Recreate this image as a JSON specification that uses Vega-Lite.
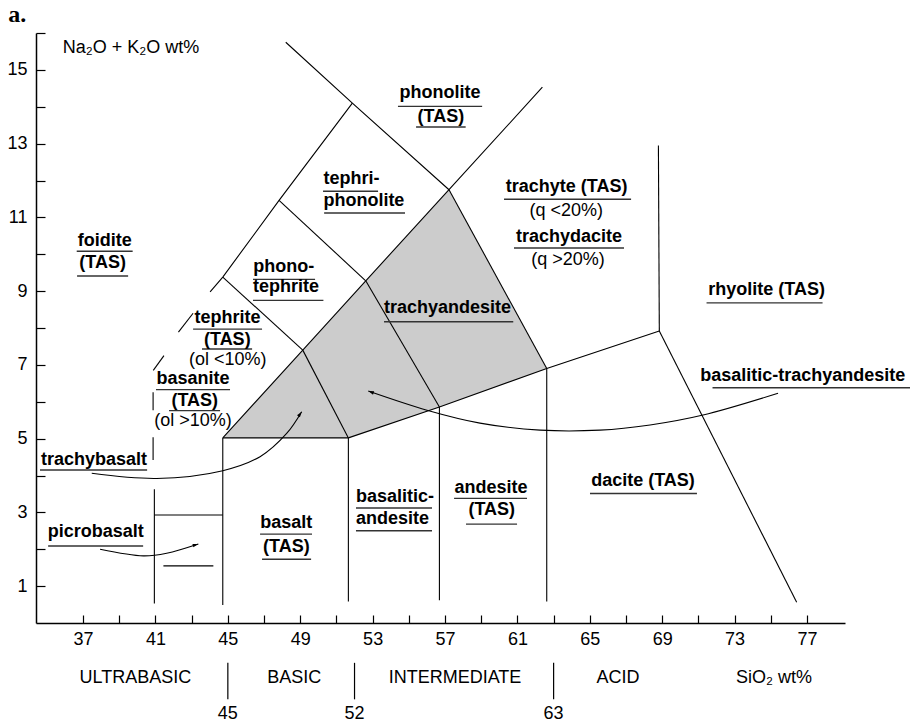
{
  "$schema": "https://vega.github.io/schema/vega-lite/v6.json",
  "width": 809,
  "height": 590,
  "autosize": {"type": "none"},
  "padding": {"left": 36, "top": 33, "right": 65, "bottom": 105},
  "background": "white",
  "config": {"view": {"stroke": null}, "font": "Liberation Sans"},
  "datasets": {
    "poly": [
      {"o": 0, "x": 44.72, "y": 5.02},
      {"o": 1, "x": 49.14, "y": 7.40},
      {"o": 2, "x": 52.62, "y": 9.28},
      {"o": 3, "x": 57.22, "y": 11.75},
      {"o": 4, "x": 62.62, "y": 6.90},
      {"o": 5, "x": 56.69, "y": 5.86},
      {"o": 6, "x": 51.66, "y": 5.02},
      {"o": 7, "x": 44.72, "y": 5.02}
    ],
    "segs": [
      {"s": "L1", "o": 0, "x": 40.88, "y": 6.85}, {"s": "L1", "o": 1, "x": 41.47, "y": 7.25},
      {"s": "L2", "o": 0, "x": 42.27, "y": 7.89}, {"s": "L2", "o": 1, "x": 43.08, "y": 8.40},
      {"s": "L3", "o": 0, "x": 44.02, "y": 8.98}, {"s": "L3", "o": 1, "x": 44.72, "y": 9.38}, {"s": "L3", "o": 2, "x": 47.83, "y": 11.46}, {"s": "L3", "o": 3, "x": 51.88, "y": 14.10},
      {"s": "TOP", "o": 0, "x": 48.2, "y": 15.75}, {"s": "TOP", "o": 1, "x": 51.88, "y": 14.10}, {"s": "TOP", "o": 2, "x": 57.22, "y": 11.75},
      {"s": "PT", "o": 0, "x": 44.72, "y": 9.38}, {"s": "PT", "o": 1, "x": 49.14, "y": 7.40},
      {"s": "TP", "o": 0, "x": 47.83, "y": 11.46}, {"s": "TP", "o": 1, "x": 52.62, "y": 9.28},
      {"s": "DIAG", "o": 0, "x": 44.72, "y": 5.02}, {"s": "DIAG", "o": 1, "x": 49.14, "y": 7.40}, {"s": "DIAG", "o": 2, "x": 52.62, "y": 9.28}, {"s": "DIAG", "o": 3, "x": 57.22, "y": 11.75}, {"s": "DIAG", "o": 4, "x": 62.38, "y": 14.53},
      {"s": "TR", "o": 0, "x": 57.22, "y": 11.75}, {"s": "TR", "o": 1, "x": 62.62, "y": 6.90},
      {"s": "DAC", "o": 0, "x": 51.66, "y": 5.02}, {"s": "DAC", "o": 1, "x": 56.69, "y": 5.86}, {"s": "DAC", "o": 2, "x": 62.62, "y": 6.90}, {"s": "DAC", "o": 3, "x": 68.84, "y": 7.92},
      {"s": "BT", "o": 0, "x": 44.72, "y": 5.02}, {"s": "BT", "o": 1, "x": 51.66, "y": 5.02},
      {"s": "CB", "o": 0, "x": 49.14, "y": 7.40}, {"s": "CB", "o": 1, "x": 51.66, "y": 5.02},
      {"s": "DG", "o": 0, "x": 52.62, "y": 9.28}, {"s": "DG", "o": 1, "x": 56.69, "y": 5.86},
      {"s": "V45", "o": 0, "x": 44.72, "y": 5.02}, {"s": "V45", "o": 1, "x": 44.72, "y": 0.49},
      {"s": "V52", "o": 0, "x": 51.66, "y": 5.02}, {"s": "V52", "o": 1, "x": 51.66, "y": 0.58},
      {"s": "V57", "o": 0, "x": 56.69, "y": 5.86}, {"s": "V57", "o": 1, "x": 56.69, "y": 0.62},
      {"s": "V63", "o": 0, "x": 62.62, "y": 6.90}, {"s": "V63", "o": 1, "x": 62.62, "y": 0.58},
      {"s": "V69", "o": 0, "x": 68.79, "y": 12.95}, {"s": "V69", "o": 1, "x": 68.84, "y": 7.92},
      {"s": "RHY", "o": 0, "x": 68.84, "y": 7.92}, {"s": "RHY", "o": 1, "x": 76.43, "y": 0.56},
      {"s": "V41", "o": 0, "x": 40.94, "y": 3.63}, {"s": "V41", "o": 1, "x": 40.94, "y": 0.53},
      {"s": "H3", "o": 0, "x": 40.94, "y": 2.93}, {"s": "H3", "o": 1, "x": 44.72, "y": 2.93},
      {"s": "HS", "o": 0, "x": 41.44, "y": 1.55}, {"s": "HS", "o": 1, "x": 44.20, "y": 1.55},
      {"s": "VB1", "o": 0, "x": 40.87, "y": 6.26}, {"s": "VB1", "o": 1, "x": 40.87, "y": 5.77},
      {"s": "VB2", "o": 0, "x": 40.87, "y": 5.04}, {"s": "VB2", "o": 1, "x": 40.87, "y": 4.42}
    ],
    "curves": [
      {"s": "C1", "o": 0, "x": 37.48, "y": 4.06}, {"s": "C1", "o": 1, "x": 41.07, "y": 3.92}, {"s": "C1", "o": 2, "x": 44.72, "y": 4.13}, {"s": "C1", "o": 3, "x": 46.78, "y": 4.51}, {"s": "C1", "o": 4, "x": 48.25, "y": 5.14}, {"s": "C1", "o": 5, "x": 49.08, "y": 5.73},
      {"s": "C2", "o": 0, "x": 37.94, "y": 2.0}, {"s": "C2", "o": 1, "x": 40.33, "y": 1.82}, {"s": "C2", "o": 2, "x": 41.62, "y": 1.89}, {"s": "C2", "o": 3, "x": 43.37, "y": 2.14},
      {"s": "C3", "o": 0, "x": 75.40, "y": 6.23}, {"s": "C3", "o": 1, "x": 71.26, "y": 5.64}, {"s": "C3", "o": 2, "x": 68.33, "y": 5.37}, {"s": "C3", "o": 3, "x": 65.56, "y": 5.23}, {"s": "C3", "o": 4, "x": 62.25, "y": 5.23}, {"s": "C3", "o": 5, "x": 58.93, "y": 5.42}, {"s": "C3", "o": 6, "x": 56.00, "y": 5.77}, {"s": "C3", "o": 7, "x": 52.76, "y": 6.29}
    ],
    "heads": [
      {"x": 49.08, "y": 5.73, "a": 35},
      {"x": 43.37, "y": 2.14, "a": 74},
      {"x": 52.76, "y": 6.29, "a": 290}
    ],
    "bc": [
      {"t": "phonolite", "x": 56.72, "y": 14.36},
      {"t": "(TAS)", "x": 56.77, "y": 13.72},
      {"t": "trachyte (TAS)", "x": 63.72, "y": 11.82},
      {"t": "trachydacite", "x": 63.85, "y": 10.47},
      {"t": "rhyolite (TAS)", "x": 74.77, "y": 9.02},
      {"t": "basalitic-trachyandesite", "x": 76.77, "y": 6.70},
      {"t": "dacite (TAS)", "x": 67.94, "y": 3.86},
      {"t": "basalt", "x": 48.23, "y": 2.70},
      {"t": "(TAS)", "x": 48.23, "y": 2.05},
      {"t": "andesite", "x": 59.54, "y": 3.65},
      {"t": "(TAS)", "x": 59.58, "y": 3.06},
      {"t": "tephrite", "x": 44.98, "y": 8.26},
      {"t": "(TAS)", "x": 44.97, "y": 7.67},
      {"t": "basanite", "x": 43.08, "y": 6.62},
      {"t": "(TAS)", "x": 43.17, "y": 6.03},
      {"t": "trachybasalt", "x": 37.61, "y": 4.42},
      {"t": "picrobasalt", "x": 37.70, "y": 2.47},
      {"t": "foidite", "x": 38.20, "y": 10.35},
      {"t": "(TAS)", "x": 38.08, "y": 9.75}
    ],
    "bl": [
      {"t": "tephri-", "x": 50.28, "y": 12.03},
      {"t": "phonolite", "x": 50.28, "y": 11.44},
      {"t": "phono-", "x": 46.41, "y": 9.66},
      {"t": "tephrite", "x": 46.39, "y": 9.10},
      {"t": "trachyandesite", "x": 53.63, "y": 8.53},
      {"t": "basalitic-", "x": 52.08, "y": 3.41},
      {"t": "andesite", "x": 52.08, "y": 2.82}
    ],
    "rc": [
      {"t": "(q <20%)", "x": 63.70, "y": 11.17},
      {"t": "(q >20%)", "x": 63.79, "y": 9.84},
      {"t": "(ol <10%)", "x": 45.0, "y": 7.13},
      {"t": "(ol >10%)", "x": 43.07, "y": 5.47},
      {"t": "ULTRABASIC", "x": 39.89, "y": -1.48},
      {"t": "BASIC", "x": 48.67, "y": -1.48},
      {"t": "INTERMEDIATE", "x": 57.55, "y": -1.48},
      {"t": "ACID", "x": 66.56, "y": -1.48},
      {"t": "SiO₂ wt%", "x": 75.18, "y": -1.48},
      {"t": "45", "x": 45, "y": -2.47},
      {"t": "52", "x": 52, "y": -2.47},
      {"t": "63", "x": 63, "y": -2.47}
    ],
    "rl": [
      {"t": "Na₂O + K₂O wt%", "x": 35.88, "y": 15.59}
    ],
    "tag": [
      {"t": "a.", "x": 32.86, "y": 16.50}
    ],
    "ul": [
      {"x": 54.40, "x2": 59.05, "y": 14.01},
      {"x": 55.40, "x2": 58.14, "y": 13.45},
      {"x": 50.26, "x2": 53.30, "y": 11.71},
      {"x": 50.32, "x2": 54.79, "y": 11.12},
      {"x": 46.39, "x2": 49.82, "y": 9.32},
      {"x": 46.39, "x2": 50.28, "y": 8.75},
      {"x": 53.63, "x2": 60.77, "y": 8.17},
      {"x": 60.26, "x2": 67.28, "y": 11.49},
      {"x": 60.81, "x2": 66.89, "y": 10.17},
      {"x": 71.45, "x2": 77.86, "y": 8.68},
      {"x": 71.78, "x2": 83.11, "y": 6.38},
      {"x": 65.01, "x2": 70.92, "y": 3.51},
      {"x": 46.78, "x2": 49.65, "y": 2.41},
      {"x": 46.89, "x2": 49.60, "y": 1.73},
      {"x": 52.08, "x2": 56.28, "y": 3.12},
      {"x": 52.08, "x2": 56.28, "y": 2.50},
      {"x": 57.50, "x2": 61.53, "y": 3.38},
      {"x": 58.16, "x2": 60.98, "y": 2.68},
      {"x": 43.08, "x2": 46.89, "y": 7.97},
      {"x": 43.57, "x2": 46.34, "y": 7.43},
      {"x": 41.03, "x2": 45.12, "y": 6.33},
      {"x": 41.75, "x2": 44.57, "y": 5.76},
      {"x": 34.62, "x2": 40.54, "y": 4.15},
      {"x": 35.07, "x2": 40.32, "y": 2.09},
      {"x": 36.65, "x2": 39.74, "y": 10.08},
      {"x": 36.67, "x2": 39.49, "y": 9.41}
    ],
    "div": [
      {"x": 45, "y": -1.08, "y2": -2.07},
      {"x": 52, "y": -1.08, "y2": -2.07},
      {"x": 63, "y": -1.08, "y2": -2.07}
    ]
  },
  "encoding": {
    "x": {
      "field": "x", "type": "quantitative",
      "scale": {"domain": [34.4, 79.1], "nice": false, "zero": false},
      "axis": {
        "title": null, "grid": false,
        "values": [37, 39, 41, 43, 45, 47, 49, 51, 53, 55, 57, 59, 61, 63, 65, 67, 69, 71, 73, 75, 77],
        "labelExpr": "(datum.value - 37) % 4 === 0 ? datum.label : ''",
        "tickSize": -8, "tickColor": "black", "tickWidth": 1.2,
        "domainColor": "black", "domainWidth": 1.5,
        "labelFont": "Liberation Sans", "labelFontSize": 18, "labelColor": "black",
        "labelPadding": 15, "labelFlush": false, "labelOverlap": false
      }
    },
    "y": {
      "field": "y", "type": "quantitative",
      "scale": {"domain": [0, 16], "nice": false, "zero": false},
      "axis": {
        "title": null, "grid": false,
        "values": [1, 2, 3, 4, 5, 6, 7, 8, 9, 10, 11, 12, 13, 14, 15, 16],
        "labelExpr": "datum.value % 2 === 1 ? datum.label : ''",
        "tickSize": -9, "tickColor": "black", "tickWidth": 1.2,
        "domainColor": "black", "domainWidth": 1.5,
        "labelFont": "Liberation Sans", "labelFontSize": 18, "labelColor": "black",
        "labelPadding": 18, "labelFlush": false, "labelOverlap": false
      }
    }
  },
  "layer": [
    {
      "data": {"name": "poly"},
      "mark": {"type": "line", "fill": "#cccccc", "strokeOpacity": 0, "clip": false},
      "encoding": {"order": {"field": "o"}}
    },
    {
      "data": {"name": "segs"},
      "mark": {"type": "line", "color": "black", "strokeWidth": 1.1},
      "encoding": {"detail": {"field": "s"}, "order": {"field": "o"}}
    },
    {
      "data": {"name": "curves"},
      "mark": {"type": "line", "color": "black", "strokeWidth": 1.1, "interpolate": "catmull-rom"},
      "encoding": {"detail": {"field": "s"}, "order": {"field": "o"}}
    },
    {
      "data": {"name": "heads"},
      "mark": {"type": "point", "filled": true, "color": "black", "opacity": 1, "size": 50, "shape": "M0,0L0.5,1.6L-0.5,1.6Z"},
      "encoding": {"angle": {"field": "a", "type": "quantitative", "scale": null}}
    },
    {
      "data": {"name": "ul"},
      "mark": {"type": "rule", "color": "#333333", "strokeWidth": 1.4},
      "encoding": {"x2": {"field": "x2"}}
    },
    {
      "data": {"name": "div"},
      "mark": {"type": "rule", "color": "black", "strokeWidth": 1.2},
      "encoding": {"y2": {"field": "y2"}}
    },
    {
      "data": {"name": "bc"},
      "mark": {"type": "text", "font": "Liberation Sans", "fontSize": 18, "fontWeight": "bold", "align": "center", "baseline": "middle", "color": "black"},
      "encoding": {"text": {"field": "t"}}
    },
    {
      "data": {"name": "bl"},
      "mark": {"type": "text", "font": "Liberation Sans", "fontSize": 18, "fontWeight": "bold", "align": "left", "baseline": "middle", "color": "black"},
      "encoding": {"text": {"field": "t"}}
    },
    {
      "data": {"name": "rc"},
      "mark": {"type": "text", "font": "Liberation Sans", "fontSize": 18, "align": "center", "baseline": "middle", "color": "black"},
      "encoding": {"text": {"field": "t"}}
    },
    {
      "data": {"name": "rl"},
      "mark": {"type": "text", "font": "Liberation Sans", "fontSize": 18, "align": "left", "baseline": "middle", "color": "black"},
      "encoding": {"text": {"field": "t"}}
    },
    {
      "data": {"name": "tag"},
      "mark": {"type": "text", "font": "Liberation Serif", "fontSize": 24, "fontWeight": "bold", "align": "left", "baseline": "middle", "color": "black"},
      "encoding": {"text": {"field": "t"}}
    }
  ]
}
